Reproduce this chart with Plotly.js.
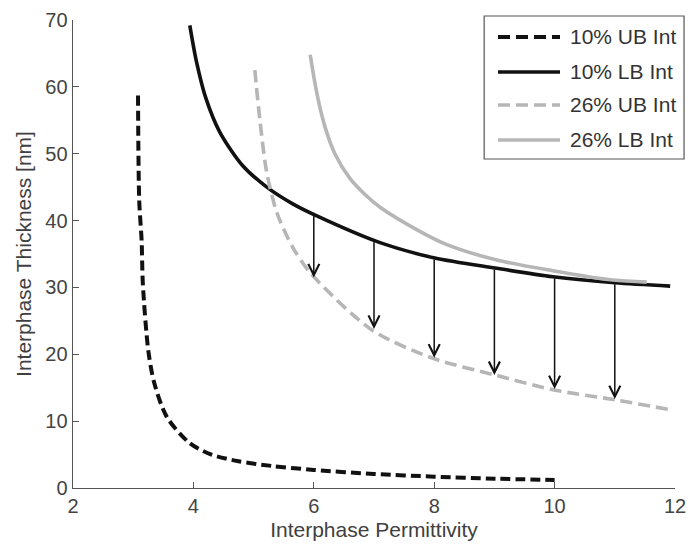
<!DOCTYPE html>
<html>
<head>
<meta charset="utf-8">
<script src="https://cdn.plot.ly/plotly-3.0.1.min.js"></script>
<style>html,body{margin:0;padding:0;background:#fff;}#chart{width:689px;height:547px;}</style>
</head>
<body>
<div id="chart"></div>
<script>
// ---- data ----
const seriesNames = ['10% UB Int', '10% LB Int', '26% UB Int', '26% LB Int'];

const ub10_x = [3.08, 3.10, 3.14, 3.16, 3.25, 3.35, 3.56, 3.94, 4.3, 4.75, 5.3, 6.0, 7.0, 8.0, 9.0, 10.0];
const ub10_y = [58.7, 43, 37, 30.6, 20.6, 15.7, 10.6, 6.7, 5.0, 4.0, 3.3, 2.7, 2.1, 1.7, 1.4, 1.2];

const lb10_x = [3.94, 4.05, 4.2, 4.44, 4.82, 5.22, 5.65, 6.05, 7.1, 8.01, 9.01, 9.97, 11.0, 11.92];
const lb10_y = [69.2, 63.8, 58.5, 53.2, 48.2, 45.0, 42.5, 40.7, 36.7, 34.4, 32.9, 31.6, 30.7, 30.2];

const ub26_x = [5.02, 5.11, 5.22, 5.39, 5.65, 5.94, 6.97, 7.98, 9.01, 9.97, 11.0, 11.92];
const ub26_y = [62.5, 54.6, 47.1, 41.1, 36.0, 32.2, 23.6, 19.4, 16.9, 14.7, 13.2, 11.7];

const lb26_x = [5.94, 6.02, 6.1, 6.2, 6.35, 6.6, 6.85, 7.1, 7.8, 8.21, 9.04, 9.97, 10.97, 11.53];
const lb26_y = [64.8, 60.5, 57.0, 53.6, 50.0, 46.3, 43.9, 42.0, 38.2, 36.4, 34.1, 32.5, 31.1, 30.8];

// arrows: from the 10% LB curve down to the 26% UB curve
const arrowX = [6, 7, 8, 9, 10, 11];
const arrowFrom = [40.9, 37.0, 34.4, 32.9, 31.6, 30.7];
const arrowTo = [31.5, 23.8, 19.5, 16.9, 14.8, 13.3];

const xTicks = [2, 4, 6, 8, 10, 12];
const yTicks = [0, 10, 20, 30, 40, 50, 60, 70];

// ---- styles ----
const FONT = '"Liberation Sans", Arial, Helvetica, sans-serif';
const BLACK = '#111111';
const GRAY = '#b6b6b6';
const styles = [
  {color: BLACK, width: 4, dash: '10px,5px'},
  {color: BLACK, width: 3.6, dash: 'solid'},
  {color: GRAY, width: 3.6, dash: '12px,6px'},
  {color: GRAY, width: 3.6, dash: 'solid'}
];
const xs = [ub10_x, lb10_x, ub26_x, lb26_x];
const ys = [ub10_y, lb10_y, ub26_y, lb26_y];

const traces = seriesNames.map((n, i) => ({
  type: 'scatter', mode: 'lines', name: n, x: xs[i], y: ys[i],
  line: {color: styles[i].color, width: styles[i].width, dash: styles[i].dash, shape: 'spline', smoothing: 0.8},
  showlegend: false, hoverinfo: 'skip'
}));

const annotations = arrowX.map((x, i) => ({
  x: x, y: arrowTo[i], ax: x, ay: arrowFrom[i], xref: 'x', yref: 'y', axref: 'x', ayref: 'y',
  showarrow: true, arrowhead: 5, arrowsize: 1.45, arrowwidth: 1.5, arrowcolor: BLACK, text: ''
}));

// custom legend (MATLAB style, long line samples)
const legRows = [0.9637, 0.8889, 0.8184, 0.7436];
const shapes = [{
  type: 'rect', xref: 'paper', yref: 'paper', x0: 0.683, x1: 1.015, y0: 0.703, y1: 1.0085,
  line: {color: '#555', width: 1.2}, fillcolor: '#ffffff', layer: 'above'
}];
seriesNames.forEach((n, i) => {
  shapes.push({type: 'line', xref: 'paper', yref: 'paper', x0: 0.706, x1: 0.809, y0: legRows[i], y1: legRows[i],
    line: {color: styles[i].color, width: styles[i].width, dash: i % 2 === 0 ? '12px,6px' : 'solid'}, layer: 'above'});
  annotations.push({xref: 'paper', yref: 'paper', x: 0.822, y: legRows[i], xanchor: 'left', yanchor: 'middle',
    text: n, showarrow: false, font: {family: FONT, size: 21, color: '#333'}});
});

const layout = {
  width: 689, height: 547,
  margin: {l: 73, r: 14, t: 20, b: 59},
  paper_bgcolor: '#fff', plot_bgcolor: '#fff',
  font: {family: FONT, size: 20, color: '#444'},
  showlegend: false,
  xaxis: {
    range: [2, 12], tickvals: xTicks, ticktext: xTicks.map(String),
    ticks: 'inside', ticklen: 6, tickwidth: 1.2, tickcolor: '#555',
    showline: true, linecolor: '#555', linewidth: 1.4, showgrid: false, zeroline: false,
    tickfont: {size: 20, color: '#444'},
    title: {text: 'Interphase Permittivity', font: {size: 21, color: '#404040'}, standoff: 6}
  },
  yaxis: {
    range: [0, 70], tickvals: yTicks, ticktext: yTicks.map(String),
    ticks: 'inside', ticklen: 6, tickwidth: 1.2, tickcolor: '#555',
    showline: true, linecolor: '#555', linewidth: 1.4, showgrid: false, zeroline: false,
    tickfont: {size: 20, color: '#444'},
    title: {text: 'Interphase Thickness [nm]', font: {size: 21, color: '#404040'}, standoff: 8}
  },
  shapes: shapes,
  annotations: annotations
};

Plotly.newPlot('chart', traces, layout, {staticPlot: true, displayModeBar: false});
</script>
</body>
</html>
